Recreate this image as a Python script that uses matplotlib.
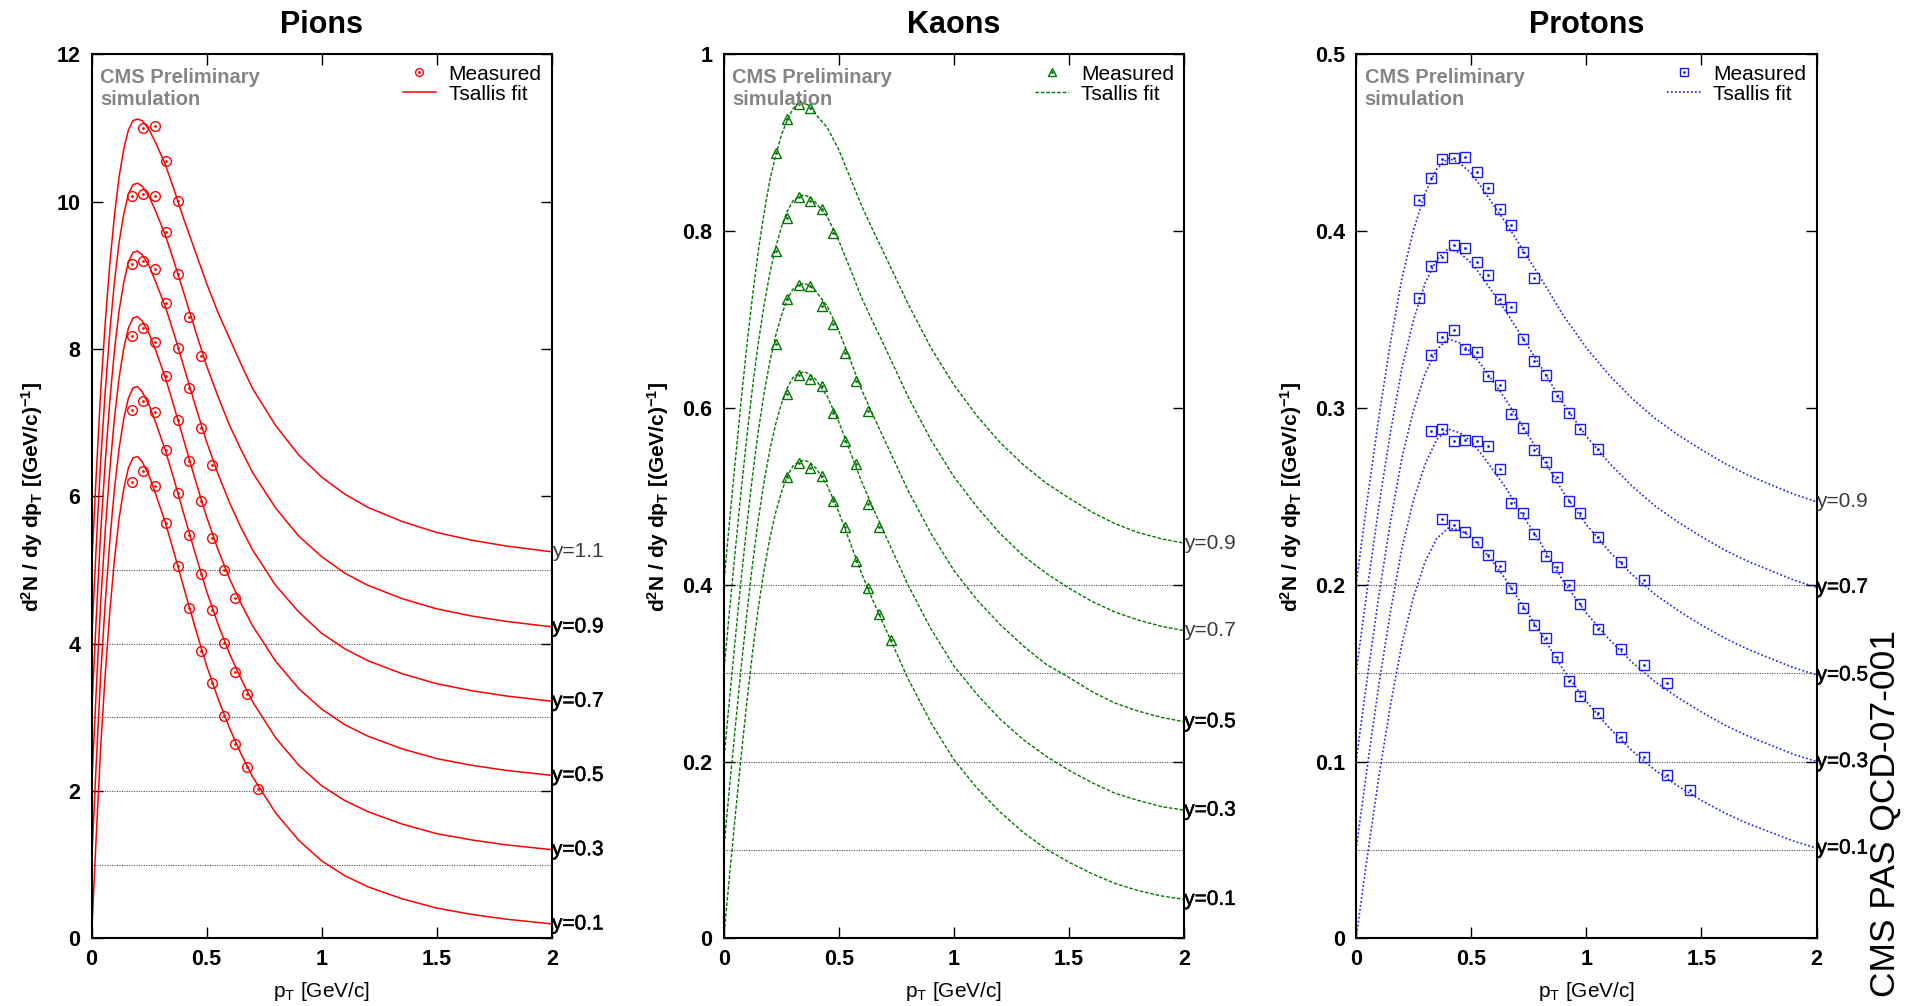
import matplotlib
matplotlib.use("Agg")
import matplotlib.pyplot as plt
from matplotlib.lines import Line2D
from matplotlib.legend_handler import HandlerTuple
import matplotlib.patheffects as pe

plt.rcParams['font.family'] = ['Liberation Sans', 'DejaVu Sans']
plt.rcParams['mathtext.fontset'] = 'custom'
plt.rcParams['mathtext.rm'] = 'Liberation Sans'
plt.rcParams['mathtext.it'] = 'Liberation Sans:italic'
plt.rcParams['mathtext.bf'] = 'Liberation Sans:bold'

# ---------------- common ----------------
x_ticks = [0, 0.5, 1, 1.5, 2]
x_ticklabels = ['0', '0.5', '1', '1.5', '2']

# ---------------- Pions ----------------
pion_rap_labels = ['y=0.1', 'y=0.3', 'y=0.5', 'y=0.7', 'y=0.9', 'y=1.1']
pion_ref_levels = [1, 2, 3, 4, 5]
pion_yticks = [0, 2, 4, 6, 8, 10, 12]
pion_yticklabels = ['0', '2', '4', '6', '8', '10', '12']

pion_fit_pt = [0, 0.02, 0.04, 0.06, 0.08, 0.10, 0.12, 0.14, 0.16, 0.18, 0.20, 0.22, 0.25,
               0.28, 0.32, 0.36, 0.40, 0.45, 0.50, 0.55, 0.60, 0.65, 0.70, 0.80, 0.90,
               1.0, 1.1, 1.2, 1.35, 1.5, 1.65, 1.8, 2.0]
pion_fit_y01 = [0, 1.35, 2.6, 3.6, 4.45, 5.15, 5.7, 6.1, 6.38, 6.52, 6.54, 6.47, 6.28, 6.02,
                5.65, 5.22, 4.77, 4.22, 3.70, 3.25, 2.85, 2.50, 2.19, 1.70, 1.33, 1.05, 0.85,
                0.70, 0.535, 0.41, 0.325, 0.26, 0.195]
pion_fit_y03 = [1, 2.34, 3.58, 4.57, 5.41, 6.11, 6.65, 7.05, 7.33, 7.47, 7.49, 7.42, 7.24,
                6.99, 6.63, 6.21, 5.77, 5.23, 4.71, 4.26, 3.86, 3.52, 3.21, 2.72, 2.35, 2.07,
                1.87, 1.72, 1.55, 1.42, 1.336, 1.269, 1.203]
pion_fit_y05 = [2, 3.33, 4.56, 5.55, 6.38, 7.07, 7.61, 8.01, 8.28, 8.42, 8.44, 8.38, 8.21,
                7.97, 7.62, 7.20, 6.77, 6.23, 5.72, 5.27, 4.88, 4.54, 4.24, 3.76, 3.39, 3.11,
                2.90, 2.745, 2.571, 2.439, 2.349, 2.280, 2.211]
pion_fit_y07 = [3, 4.31, 5.52, 6.48, 7.31, 7.99, 8.52, 8.90, 9.18, 9.31, 9.33, 9.28, 9.13,
                8.90, 8.58, 8.19, 7.77, 7.24, 6.74, 6.30, 5.91, 5.57, 5.27, 4.79, 4.43, 4.14,
                3.93, 3.769, 3.591, 3.455, 3.362, 3.290, 3.218]
pion_fit_y09 = [4, 5.29, 6.49, 7.44, 8.25, 8.92, 9.45, 9.83, 10.10, 10.23, 10.25, 10.21,
                10.07, 9.86, 9.55, 9.17, 8.77, 8.26, 7.77, 7.35, 6.96, 6.63, 6.32, 5.84, 5.46,
                5.18, 4.957, 4.792, 4.610, 4.472, 4.376, 4.302, 4.228]
pion_fit_y11 = [5, 6.26, 7.43, 8.37, 9.17, 9.82, 10.34, 10.71, 10.97, 11.10, 11.12, 11.10,
                10.98, 10.79, 10.51, 10.15, 9.77, 9.33, 8.89, 8.49, 8.14, 7.79, 7.46, 6.96,
                6.56, 6.26, 6.03, 5.851, 5.657, 5.508, 5.405, 5.326, 5.246]

pion_meas_pt_y01 = [0.175, 0.225, 0.275, 0.325, 0.375, 0.425, 0.475, 0.525, 0.575, 0.625, 0.675, 0.725]
pion_meas_y01 = [6.19, 6.34, 6.14, 5.64, 5.05, 4.49, 3.90, 3.46, 3.02, 2.64, 2.32, 2.02]
pion_meas_pt_y03 = [0.175, 0.225, 0.275, 0.325, 0.375, 0.425, 0.475, 0.525, 0.575, 0.625, 0.675]
pion_meas_y03 = [7.17, 7.30, 7.14, 6.63, 6.05, 5.48, 4.95, 4.46, 4.01, 3.62, 3.31]
pion_meas_pt_y05 = [0.175, 0.225, 0.275, 0.325, 0.375, 0.425, 0.475, 0.525, 0.575, 0.625]
pion_meas_y05 = [8.17, 8.28, 8.10, 7.63, 7.03, 6.48, 5.94, 5.44, 5.00, 4.62]
pion_meas_pt_y07 = [0.175, 0.225, 0.275, 0.325, 0.375, 0.425, 0.475, 0.525]
pion_meas_y07 = [9.15, 9.20, 9.08, 8.62, 8.01, 7.47, 6.93, 6.42]
pion_meas_pt_y09 = [0.175, 0.225, 0.275, 0.325, 0.375, 0.425, 0.475]
pion_meas_y09 = [10.08, 10.10, 10.07, 9.59, 9.02, 8.44, 7.91]
pion_meas_pt_y11 = [0.225, 0.275, 0.325, 0.375]
pion_meas_y11 = [11.00, 11.03, 10.55, 10.01]

# ---------------- Kaons ----------------
kaon_rap_labels = ['y=0.1', 'y=0.3', 'y=0.5', 'y=0.7', 'y=0.9']
kaon_ref_levels = [0.1, 0.2, 0.3, 0.4]
kaon_yticks = [0, 0.2, 0.4, 0.6, 0.8, 1.0]
kaon_yticklabels = ['0', '0.2', '0.4', '0.6', '0.8', '1']

kaon_fit_pt = [0, 0.025, 0.05, 0.075, 0.10, 0.125, 0.15, 0.175, 0.20, 0.225, 0.25, 0.275,
               0.30, 0.325, 0.35, 0.375, 0.40, 0.45, 0.50, 0.55, 0.60, 0.65, 0.70, 0.80,
               0.90, 1.0, 1.1, 1.2, 1.3, 1.4, 1.5, 1.6, 1.7, 1.8, 1.9, 2.0]
kaon_fit_y01 = [0, 0.070, 0.138, 0.204, 0.266, 0.323, 0.373, 0.416, 0.452, 0.481, 0.504,
                0.522, 0.534, 0.539, 0.541, 0.538, 0.532, 0.512, 0.482, 0.447, 0.412, 0.381,
                0.352, 0.294, 0.244, 0.202, 0.170, 0.143, 0.120, 0.101, 0.086, 0.073, 0.062,
                0.054, 0.048, 0.044]
kaon_fit_y03 = [0.1, 0.170, 0.238, 0.304, 0.366, 0.423, 0.473, 0.516, 0.552, 0.581, 0.604,
                0.622, 0.634, 0.639, 0.641, 0.638, 0.632, 0.613, 0.584, 0.550, 0.516, 0.486,
                0.457, 0.400, 0.350, 0.308, 0.276, 0.248, 0.225, 0.206, 0.190, 0.176, 0.164,
                0.156, 0.149, 0.145]
kaon_fit_y05 = [0.2, 0.270, 0.338, 0.404, 0.466, 0.523, 0.573, 0.616, 0.652, 0.681, 0.704,
                0.722, 0.734, 0.739, 0.741, 0.738, 0.732, 0.715, 0.687, 0.654, 0.620, 0.591,
                0.563, 0.507, 0.458, 0.416, 0.383, 0.355, 0.331, 0.310, 0.295, 0.279, 0.266,
                0.257, 0.250, 0.245]
kaon_fit_y07 = [0.3, 0.370, 0.438, 0.504, 0.566, 0.623, 0.673, 0.716, 0.752, 0.781, 0.804,
                0.822, 0.834, 0.839, 0.841, 0.838, 0.832, 0.816, 0.789, 0.757, 0.724, 0.696,
                0.669, 0.613, 0.564, 0.522, 0.488, 0.458, 0.433, 0.413, 0.396, 0.381, 0.369,
                0.360, 0.353, 0.348]
kaon_fit_y09 = [0.4, 0.471, 0.539, 0.606, 0.669, 0.726, 0.777, 0.820, 0.857, 0.885, 0.908,
                0.925, 0.938, 0.945, 0.945, 0.941, 0.932, 0.917, 0.892, 0.860, 0.828, 0.800,
                0.773, 0.718, 0.668, 0.626, 0.591, 0.561, 0.536, 0.515, 0.498, 0.482, 0.469,
                0.459, 0.452, 0.447]

kaon_meas_pt_y01 = [0.275, 0.325, 0.375, 0.425, 0.475, 0.525, 0.575, 0.625, 0.675, 0.725]
kaon_meas_y01 = [0.522, 0.538, 0.532, 0.523, 0.495, 0.4655, 0.4265, 0.3965, 0.3666, 0.3378]
kaon_meas_pt_y03 = [0.275, 0.325, 0.375, 0.425, 0.475, 0.525, 0.575, 0.625, 0.675]
kaon_meas_y03 = [0.616, 0.637, 0.633, 0.625, 0.594, 0.563, 0.536, 0.491, 0.465]
kaon_meas_pt_y05 = [0.225, 0.275, 0.325, 0.375, 0.425, 0.475, 0.525, 0.575, 0.625]
kaon_meas_y05 = [0.672, 0.723, 0.7386, 0.7377, 0.7148, 0.6946, 0.6623, 0.630, 0.597]
kaon_meas_pt_y07 = [0.225, 0.275, 0.325, 0.375, 0.425, 0.475]
kaon_meas_y07 = [0.778, 0.8148, 0.8386, 0.8341, 0.8247, 0.7973]
kaon_meas_pt_y09 = [0.225, 0.275, 0.325, 0.375]
kaon_meas_y09 = [0.8888, 0.9265, 0.9435, 0.9395]

# ---------------- Protons ----------------
proton_rap_labels = ['y=0.1', 'y=0.3', 'y=0.5', 'y=0.7', 'y=0.9']
proton_ref_levels = [0.05, 0.1, 0.15, 0.2]
proton_yticks = [0, 0.1, 0.2, 0.3, 0.4, 0.5]
proton_yticklabels = ['0', '0.1', '0.2', '0.3', '0.4', '0.5']

proton_fit_pt = [0, 0.05, 0.1, 0.15, 0.2, 0.25, 0.3, 0.35, 0.4, 0.45, 0.5, 0.55, 0.6, 0.65,
                 0.7, 0.8, 0.9, 1.0, 1.1, 1.2, 1.3, 1.4, 1.5, 1.6, 1.7, 1.8, 1.9, 2.0]
proton_fit_y01 = [0, 0.047, 0.092, 0.132, 0.167, 0.193, 0.213, 0.226, 0.232, 0.231, 0.227,
                  0.220, 0.212, 0.203, 0.193, 0.173, 0.152, 0.134, 0.119, 0.106, 0.095,
                  0.086, 0.078, 0.071, 0.065, 0.060, 0.055, 0.051]
proton_fit_y03 = [0.05, 0.098, 0.144, 0.185, 0.221, 0.248, 0.268, 0.282, 0.288, 0.286, 0.281,
                  0.273, 0.264, 0.255, 0.244, 0.224, 0.202, 0.184, 0.169, 0.156, 0.145,
                  0.136, 0.128, 0.1207, 0.1145, 0.1093, 0.1041, 0.100]
proton_fit_y05 = [0.1, 0.1482, 0.1945, 0.2358, 0.272, 0.2988, 0.3194, 0.3328, 0.339, 0.3368,
                  0.3315, 0.3233, 0.3141, 0.3048, 0.2945, 0.2739, 0.2524, 0.234, 0.2188,
                  0.2056, 0.1944, 0.1853, 0.1772, 0.1699, 0.1636, 0.1583, 0.1531, 0.149]
proton_fit_y07 = [0.15, 0.1985, 0.245, 0.2865, 0.3228, 0.3498, 0.3705, 0.3839, 0.3901, 0.3877,
                  0.3821, 0.3736, 0.3641, 0.3548, 0.3445, 0.3239, 0.3024, 0.284, 0.2688,
                  0.2556, 0.2444, 0.2353, 0.2272, 0.2197, 0.2133, 0.208, 0.2027, 0.1985]
proton_fit_y09 = [0.2, 0.2487, 0.2955, 0.3371, 0.3737, 0.4007, 0.4215, 0.435, 0.4413, 0.4385,
                  0.4327, 0.4239, 0.4141, 0.4048, 0.3945, 0.3739, 0.3524, 0.334, 0.3185,
                  0.3052, 0.2939, 0.2846, 0.2764, 0.2687, 0.2621, 0.2566, 0.2513, 0.2469]

proton_meas_pt_y01 = [0.375, 0.425, 0.475, 0.525, 0.575, 0.625, 0.675, 0.725, 0.775, 0.825,
                      0.875, 0.925, 0.975, 1.05, 1.15, 1.25, 1.35, 1.45]
proton_meas_y01 = [0.2372, 0.2339, 0.2298, 0.2241, 0.2169, 0.2103, 0.198, 0.1871, 0.177,
                   0.1696, 0.1591, 0.1455, 0.1372, 0.1277, 0.1137, 0.1028, 0.0923, 0.084]
proton_meas_pt_y03 = [0.325, 0.375, 0.425, 0.475, 0.525, 0.575, 0.625, 0.675, 0.725, 0.775,
                      0.825, 0.875, 0.925, 0.975, 1.05, 1.15, 1.25, 1.35]
proton_meas_y03 = [0.2871, 0.2878, 0.281, 0.2821, 0.2812, 0.2784, 0.2653, 0.246, 0.2407,
                   0.2289, 0.216, 0.2099, 0.2, 0.1893, 0.1748, 0.1637, 0.1547, 0.1442]
proton_meas_pt_y05 = [0.325, 0.375, 0.425, 0.475, 0.525, 0.575, 0.625, 0.675, 0.725, 0.775,
                      0.825, 0.875, 0.925, 0.975, 1.05, 1.15, 1.25]
proton_meas_y05 = [0.3297, 0.340, 0.3439, 0.3333, 0.3318, 0.3181, 0.3127, 0.2966, 0.2887,
                   0.2762, 0.2696, 0.2609, 0.2473, 0.2407, 0.2269, 0.2127, 0.2026]
proton_meas_pt_y07 = [0.275, 0.325, 0.375, 0.425, 0.475, 0.525, 0.575, 0.625, 0.675, 0.725,
                      0.775, 0.825, 0.875, 0.925, 0.975, 1.05]
proton_meas_y07 = [0.3622, 0.3803, 0.3854, 0.3919, 0.3907, 0.3826, 0.375, 0.3614, 0.3569,
                   0.3389, 0.3265, 0.3187, 0.3068, 0.297, 0.288, 0.2767]
proton_meas_pt_y09 = [0.275, 0.325, 0.375, 0.425, 0.475, 0.525, 0.575, 0.625, 0.675, 0.725, 0.775]
proton_meas_y09 = [0.4174, 0.4301, 0.4406, 0.4416, 0.442, 0.4336, 0.4242, 0.4123, 0.4032,
                   0.3883, 0.3737]

# label appearance (heavier = overprinted look in the original)
pion_label_heavy = [True, True, True, True, True, False]
kaon_label_heavy = [True, True, True, False, False]
proton_label_heavy = [True, True, True, True, False]

panels = [
    dict(title='Pions', left=91.5, ylim=12, yticks=pion_yticks, yticklabels=pion_yticklabels,
         ref=pion_ref_levels, labels=pion_rap_labels, heavy=pion_label_heavy, fit_pt=pion_fit_pt,
         fits=[pion_fit_y01, pion_fit_y03, pion_fit_y05, pion_fit_y07, pion_fit_y09, pion_fit_y11],
         meas_pt=[pion_meas_pt_y01, pion_meas_pt_y03, pion_meas_pt_y05, pion_meas_pt_y07,
                  pion_meas_pt_y09, pion_meas_pt_y11],
         meas=[pion_meas_y01, pion_meas_y03, pion_meas_y05, pion_meas_y07, pion_meas_y09, pion_meas_y11],
         color='#ff0000', ls='-', lw=1.1, marker='o', ms=7.0),
    dict(title='Kaons', left=723.7, ylim=1.0, yticks=kaon_yticks, yticklabels=kaon_yticklabels,
         ref=kaon_ref_levels, labels=kaon_rap_labels, heavy=kaon_label_heavy, fit_pt=kaon_fit_pt,
         fits=[kaon_fit_y01, kaon_fit_y03, kaon_fit_y05, kaon_fit_y07, kaon_fit_y09],
         meas_pt=[kaon_meas_pt_y01, kaon_meas_pt_y03, kaon_meas_pt_y05, kaon_meas_pt_y07, kaon_meas_pt_y09],
         meas=[kaon_meas_y01, kaon_meas_y03, kaon_meas_y05, kaon_meas_y07, kaon_meas_y09],
         color='#007800', ls=(0, (2.6, 1.3)), lw=1.0, marker='^', ms=6.5),
    dict(title='Protons', left=1356.0, ylim=0.5, yticks=proton_yticks, yticklabels=proton_yticklabels,
         ref=proton_ref_levels, labels=proton_rap_labels, heavy=proton_label_heavy, fit_pt=proton_fit_pt,
         fits=[proton_fit_y01, proton_fit_y03, proton_fit_y05, proton_fit_y07, proton_fit_y09],
         meas_pt=[proton_meas_pt_y01, proton_meas_pt_y03, proton_meas_pt_y05, proton_meas_pt_y07,
                  proton_meas_pt_y09],
         meas=[proton_meas_y01, proton_meas_y03, proton_meas_y05, proton_meas_y07, proton_meas_y09],
         color='#1a1aff', ls=(0, (1.0, 1.4)), lw=1.2, marker='s', ms=6.5),
]

W, H = 1913, 1006
fig = plt.figure(figsize=(W / 100, H / 100), dpi=100)
ax_w = 460.5
ax_top, ax_bot = 54.3, 938.3
heavy_fx = [pe.withStroke(linewidth=0.35, foreground='black')]

for p in panels:
    ax = fig.add_axes([p['left'] / W, 1 - ax_bot / H, ax_w / W, (ax_bot - ax_top) / H])
    ax.set_xlim(0, 2)
    ax.set_ylim(0, p['ylim'])
    for lev in p['ref']:
        ax.axhline(lev, color='#555555', lw=0.8, ls=(0, (1, 1.2)), zorder=1)
    for fy, lab, hv in zip(p['fits'], p['labels'], p['heavy']):
        ax.plot(p['fit_pt'], fy, color=p['color'], ls=p['ls'], lw=p['lw'], zorder=2)
        if hv:
            ax.text(2.0, fy[-1], lab, fontsize=15, ha='left', va='center', color='black',
                    clip_on=False, path_effects=heavy_fx)
        else:
            ax.text(2.0, fy[-1], lab, fontsize=15, ha='left', va='center', color='#3a3a3a',
                    clip_on=False)
    for mx, my in zip(p['meas_pt'], p['meas']):
        ax.plot(mx, my, ls='none', marker=p['marker'], ms=p['ms'], mfc='none',
                mec=p['color'], mew=1.0, zorder=3)
        ax.plot(mx, my, ls='none', marker='.', ms=2.0, color=p['color'], zorder=3)
    ax.set_xticks(x_ticks, labels=x_ticklabels, fontweight='bold')
    ax.set_yticks(p['yticks'], labels=p['yticklabels'], fontweight='bold')
    ax.tick_params(direction='in', length=8, width=1.0, top=True, right=True,
                   labelsize=15.5, pad=8)
    for sp in ax.spines.values():
        sp.set_linewidth(1.5)
    ax.set_title(p['title'], fontsize=22, fontweight='bold', pad=15)
    ax.set_xlabel(r'$\mathrm{p_{T}}$ [GeV/c]', fontsize=15, labelpad=7)
    ax.set_ylabel(r'$\mathbf{d^{2}N\ /\ dy\ dp_{T}\ [(GeV/c)^{-1}]}$', fontsize=15, labelpad=8)
    ax.text(0.0185, 0.984, 'CMS Preliminary\nsimulation', transform=ax.transAxes,
            ha='left', va='top', fontsize=14.5, fontweight='bold', color='#858585',
            linespacing=1.15)
    h_meas = (Line2D([], [], ls='none', marker=p['marker'], ms=p['ms'] * 0.8, mfc='none',
                     mec=p['color'], mew=1.0),
              Line2D([], [], ls='none', marker='.', ms=2.0, color=p['color']))
    h_fit = Line2D([], [], color=p['color'], ls=p['ls'], lw=p['lw'])
    ax.legend([h_meas, h_fit], ['Measured', 'Tsallis fit'], loc='upper right', frameon=False,
              fontsize=15, handlelength=1.6, handletextpad=0.6, labelspacing=0.05,
              borderaxespad=0.3, borderpad=0.2,
              handler_map={tuple: HandlerTuple(ndivide=1, pad=0)})

fig.text(0.9855, 0.191, 'CMS PAS QCD-07-001', rotation=90, fontsize=25.5,
         ha='center', va='center')

fig.savefig('out.png', dpi=100)
